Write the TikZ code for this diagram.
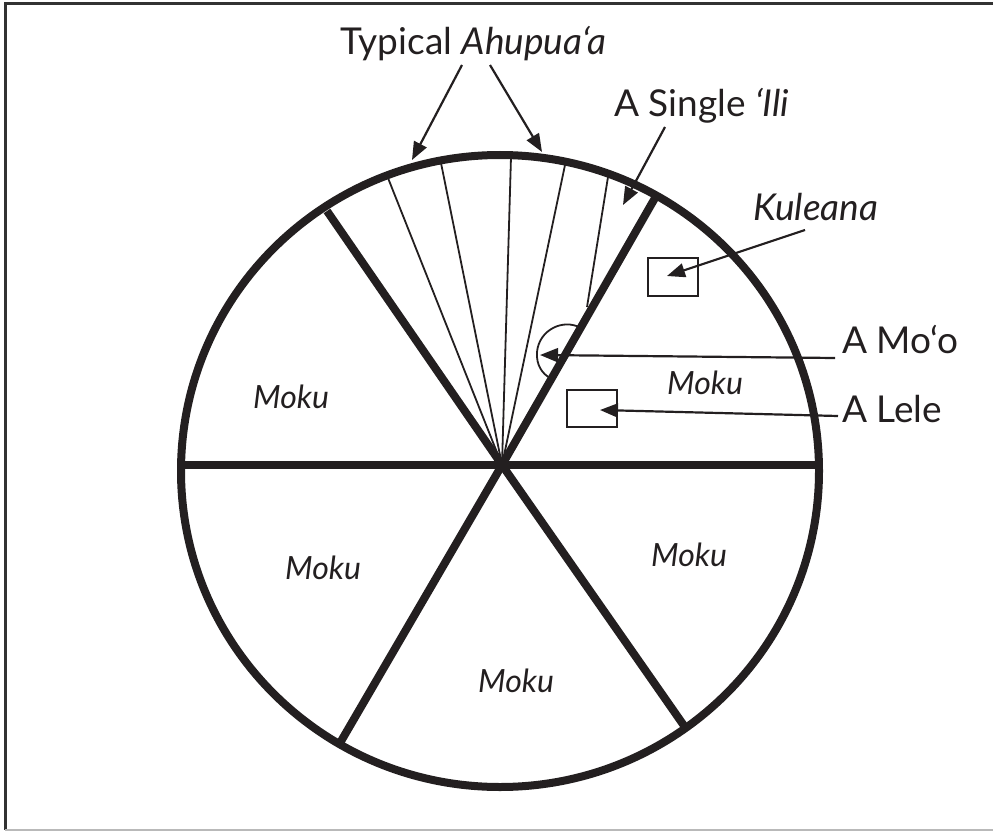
\documentclass[tikz,border=0pt]{standalone}
\usepackage{fontspec}
\setmainfont{Lato}
\usetikzlibrary{arrows.meta}
\definecolor{ink}{RGB}{35,31,32}
\definecolor{framedark}{RGB}{50,50,50}
\definecolor{framelight}{RGB}{185,185,185}
\begin{document}
\begin{tikzpicture}[x=1pt,y=-1pt,
  every path/.style={ink},
  thickline/.style={draw=ink,line width=8pt},
  thinline/.style={draw=ink,line width=1.8pt},
  pointer/.style={draw=ink,line width=2.2pt,-{Triangle[length=18pt,width=14pt]}},
  lbl/.style={inner sep=0pt,anchor=base west,text=ink,font=\fontsize{37}{42}\selectfont},
  moku/.style={inner sep=0pt,anchor=base,text=ink,font=\fontsize{32}{36}\selectfont\itshape},
  lot/.style={draw=ink,line width=2.2pt,inner sep=0pt}
]
\useasboundingbox (0,0) rectangle (993,832);
% frame
\draw[draw=framedark,line width=3pt] (996,4) -- (5,4) -- (5,830);
\draw[draw=framelight,line width=2pt] (5,830) -- (996,830);

% hub and rim points
\coordinate (hub) at (502,465);
\coordinate (W) at (181,465);
\coordinate (E) at (820,465);
\coordinate (NW) at (327,211);
\coordinate (NE) at (655,198);
\coordinate (SW) at (340,743);
\coordinate (SE) at (687,730);

% thin ahupua'a / ili lines
\coordinate (t1) at (388,178);
\coordinate (t2) at (441,163);
\coordinate (t3) at (511,157);
\coordinate (t4) at (565,165);
\coordinate (t5a) at (587,307);
\coordinate (t5) at (608,177);
\foreach \p in {t1,t2,t3,t4} \draw[thinline] (hub) -- (\p);
\draw[thinline] (t5a) -- (t5);

% thick divisions
\draw[thickline] (W) -- (E);
\draw[thickline] (hub) -- (NW);
\draw[thickline] (hub) -- (NE);
\draw[thickline] (hub) -- (SW);
\draw[thickline] (hub) -- (SE);
% island circle
\draw[thickline] (500,471) ellipse [x radius=319, y radius=316];

% mo'o blob
\draw[thinline] (581,328) .. controls (563,318) and (539,330) .. (537,352)
  .. controls (536,366) and (543,374) .. (550,378);

% boxes
\node[lot,minimum width=50pt,minimum height=38pt] (kulbox) at (673,277) {};
\node[lot,minimum width=50pt,minimum height=37pt] (lelebox) at (592,408.5) {};

% labels
\node[lbl] (typ) at (340,55) {Typical \textit{Ahupua‘a}};
\node[lbl] (ili) at (614,117) {A Single \textit{‘Ili}};
\node[lbl] (kul) at (753,220) {\textit{Kuleana}};
\node[lbl] (moo) at (842,353) {A Mo‘o};
\node[lbl] (lele) at (842,422) {A Lele};

\node[moku] (m1) at (291,408) {Moku};
\node[moku] (m2) at (705,394) {Moku};
\node[moku] (m3) at (689,566) {Moku};
\node[moku] (m4) at (323,579) {Moku};
\node[moku] (m5) at (516,692) {Moku};

% arrow tails and tips
\coordinate (typA) at (462,65);
\coordinate (typB) at (490,65);
\coordinate (typAtip) at (412,160);
\coordinate (typBtip) at (542,152);
\coordinate (iliT) at (665,127);
\coordinate (iliTip) at (623,205);
\coordinate (kulT) at (805,230);
\coordinate (kulTip) at (667,276);
\coordinate (mooT) at (835,358);
\coordinate (mooTip) at (540,355);
\coordinate (leleT) at (838,416);
\coordinate (leleTip) at (600,410);

\draw[pointer] (typA) -- (typAtip);
\draw[pointer] (typB) -- (typBtip);
\draw[pointer] (iliT) -- (iliTip);
\draw[pointer] (kulT) -- (kulTip);
\draw[pointer] (mooT) -- (mooTip);
\draw[pointer] (leleT) -- (leleTip);
\end{tikzpicture}
\end{document}
